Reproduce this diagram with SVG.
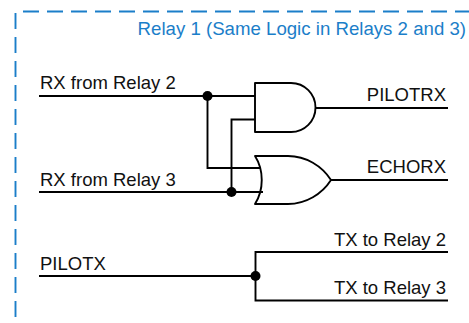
<svg xmlns="http://www.w3.org/2000/svg" width="469" height="323" viewBox="0 0 469 323">
<style>
text{font-family:"Liberation Sans",Arial,sans-serif;font-size:18.500px;fill:#111}
.r{text-anchor:end}
.w{fill:none;stroke:#000;stroke-width:1.9}
.g{fill:#fff;stroke:#000;stroke-width:1.9;stroke-linejoin:round}
.d{fill:#000}
</style>
<rect width="469" height="323" fill="#fff"/>
<g id="boundary"><path d="M23 11.500H469M15.500 13V323" fill="none" stroke="#1b7ec9" stroke-width="1.9" stroke-dasharray="16 8"/>
<text x="466" y="35" class="r" style="fill:#1b7ec9;font-size:18.650px">Relay 1 (Same Logic in Relays 2 and 3)</text></g>
<g id="connectors">
<path class="w" d="M39 96H255M207.500 96V168H260M39 192H263M231.500 192V119.500H255M316 108H448M331 180H448M39 276H255.500M448 252H255.500V300.500H448"/>
<circle class="d" cx="207.500" cy="96" r="5"/>
<circle class="d" cx="231.500" cy="192" r="5"/>
<circle class="d" cx="255.500" cy="276" r="5"/>
</g>
<g id="and-gate"><path class="g" d="M255 83H291A24.500 24.500 0 0 1 291 132H255Z"/></g>
<g id="or-gate"><path class="g" style="fill:none" d="M255 156H288C306 156 322 166 331 180C322 194 306 204 288 204H255C264 190 264 170 255 156Z"/></g>
<g id="labels">
<text x="40" y="89">RX from Relay 2</text>
<text x="40" y="186">RX from Relay 3</text>
<text x="40" y="269.500">PILOTX</text>
<text x="446" y="101" class="r">PILOTRX</text>
<text x="446" y="173" class="r">ECHORX</text>
<text x="446" y="246" class="r">TX to Relay 2</text>
<text x="446" y="294" class="r">TX to Relay 3</text>
</g>
</svg>
